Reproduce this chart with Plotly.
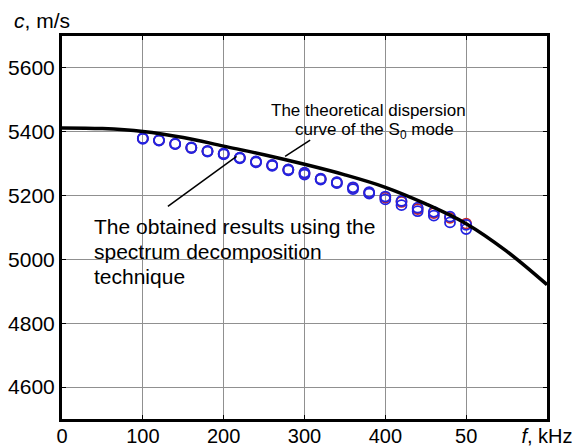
import plotly.graph_objects as go

# Theoretical dispersion curve of the S0 mode
f_theory = [0, 50, 100, 150, 200, 250, 300, 350, 400, 450, 500, 550, 600]
c_theory = [5412, 5410, 5401, 5382, 5355, 5328, 5298, 5265, 5226, 5174, 5112, 5026, 4921]

# Obtained results (spectrum decomposition technique)
f_exp = [100, 120, 140, 160, 180, 200, 220, 240, 260, 280, 300,
         320, 340, 360, 380, 400, 420, 440, 460, 480, 500]
c_exp_a = [5380, 5374, 5363, 5351, 5340, 5332, 5319, 5307, 5296, 5282, 5272,
           5253, 5242, 5226, 5211, 5197, 5183, 5162, 5149, 5134, 5108]
c_exp_b = [5378, 5372, 5361, 5349, 5338, 5329, 5317, 5304, 5293, 5279, 5266,
           5250, 5239, 5220, 5206, 5188, 5170, 5151, 5137, 5116, 5095]
c_exp_c = [5379, 5373, 5362, 5350, 5339, 5331, 5318, 5306, 5295, 5281, 5270,
           5252, 5241, 5224, 5209, 5194, 5180, 5158, 5145, 5130, 5112]

x_ticks = [0, 100, 200, 300, 400, 500, 600]
x_tick_labels = ["0", "100", "200", "300", "400", "50", "<i>f</i>, kHz"]
y_ticks = [4600, 4800, 5000, 5200, 5400, 5600]
y_tick_labels = ["4600", "4800", "5000", "5200", "5400", "5600"]

FONT = "Liberation Sans, Arial, sans-serif"
BLUE = "rgb(35,35,225)"

fig = go.Figure()
fig.add_trace(go.Scatter(x=f_exp, y=c_exp_c, mode="markers",
                         marker=dict(symbol="circle-open", size=10, color="rgb(200,40,40)", line=dict(width=1.8)),
                         showlegend=False))
fig.add_trace(go.Scatter(x=f_exp, y=c_exp_b, mode="markers",
                         marker=dict(symbol="circle-open", size=10, color=BLUE, line=dict(width=1.8)),
                         showlegend=False))
fig.add_trace(go.Scatter(x=f_exp, y=c_exp_a, mode="markers",
                         marker=dict(symbol="circle-open", size=10, color=BLUE, line=dict(width=1.8)),
                         showlegend=False))
fig.add_trace(go.Scatter(x=f_theory, y=c_theory, mode="lines",
                         line=dict(color="black", width=3.5, shape="spline"),
                         showlegend=False))

# pointer lines
fig.add_shape(type="line", xref="x", yref="y", x0=131, y0=5166, x1=216, y1=5323,
              line=dict(color="black", width=1.5))
fig.add_shape(type="line", xref="x", yref="y", x0=276, y0=5323, x1=307, y1=5374,
              line=dict(color="black", width=1.5))

ann_font = dict(family=FONT, size=21, color="black")
small_font = dict(family=FONT, size=17, color="black")
fig.add_annotation(x=379, y=5468, xref="x", yref="y", text="The theoretical dispersion",
                   showarrow=False, xanchor="center", yanchor="middle", font=small_font)
fig.add_annotation(x=386, y=5402, xref="x", yref="y", text="curve of the S<sub>0</sub> mode",
                   showarrow=False, xanchor="center", yanchor="middle", font=small_font)
fig.add_annotation(x=37, y=5104, xref="x", yref="y", text="The obtained results using the",
                   showarrow=False, xanchor="left", yanchor="middle", font=ann_font)
fig.add_annotation(x=37, y=5025, xref="x", yref="y", text="spectrum decomposition",
                   showarrow=False, xanchor="left", yanchor="middle", font=ann_font)
fig.add_annotation(x=37, y=4946, xref="x", yref="y", text="technique",
                   showarrow=False, xanchor="left", yanchor="middle", font=ann_font)
fig.add_annotation(x=-0.103, y=1.04, xref="paper", yref="paper", text="<i>c</i>, m/s",
                   showarrow=False, xanchor="left", yanchor="middle", font=ann_font)

axis_common = dict(showline=True, linecolor="black", linewidth=3, mirror="ticks",
                   showgrid=True, gridcolor="#909090", gridwidth=1,
                   ticks="inside", ticklen=4, tickcolor="black", tickwidth=1,
                   zeroline=False)

fig.update_layout(
    width=573, height=438,
    margin=dict(l=54, r=34, t=28, b=27),
    paper_bgcolor="white", plot_bgcolor="white",
    xaxis=dict(range=[0, 600], tickvals=x_ticks, ticktext=x_tick_labels, automargin=False,
               ticklabelstandoff=-3,
               tickfont=dict(family=FONT, size=20, color="black"), **axis_common),
    yaxis=dict(range=[4500, 5700], tickvals=y_ticks, ticktext=y_tick_labels, automargin=False,
               tickfont=dict(family=FONT, size=21, color="black"), **axis_common),
)

fig.write_html("out.html")
